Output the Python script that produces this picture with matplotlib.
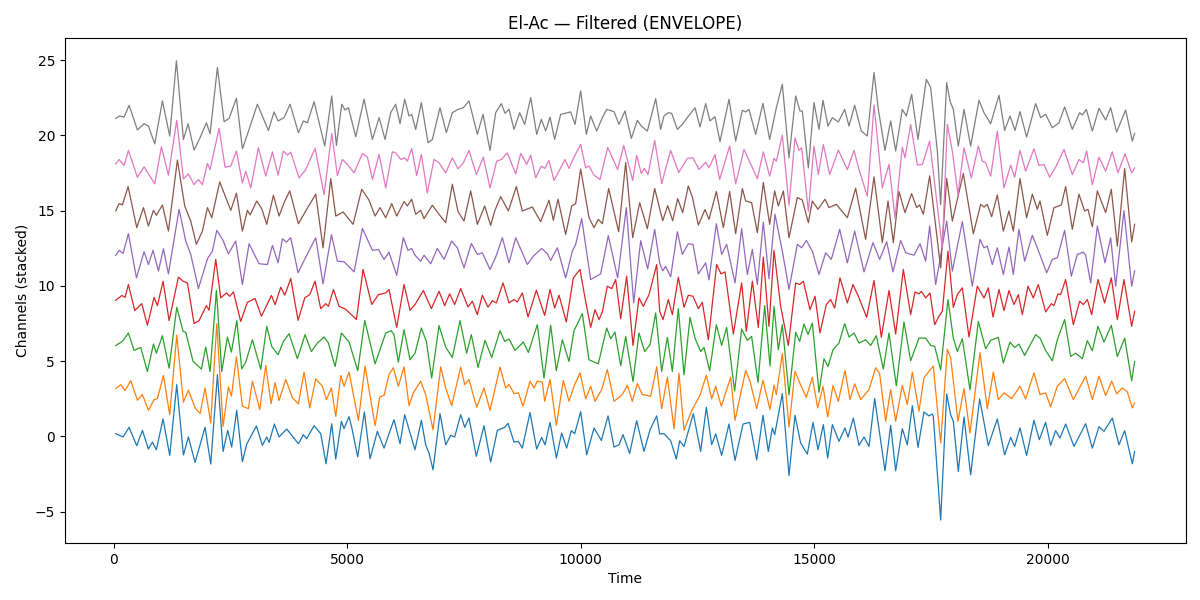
import matplotlib
matplotlib.use("Agg")
import matplotlib.pyplot as plt

# (time, value) pairs, one list per channel (unstacked values)
ch0 = [(43,0.18),(200,-0.04),(328,0.6),(492,-0.62),(614,0.4),(742,-0.84),(828,-0.38),(913,-0.89),(1056,1.16),(1199,-1.27),(1349,3.44),(1492,-1.24),(1599,-0.04),(1741,-1.73),(1955,0.6),(2077,-1.84),(2220,4.1),(2341,-1.0),(2441,0.4),(2526,-0.71),(2633,1.73),(2755,-1.69),(2848,-0.51),(3055,0.69),(3183,-0.6),(3276,-0.04),(3326,-0.4),(3440,0.82),(3540,-0.04),(3704,0.49),(3954,-0.49),(4061,0.11),(4132,-0.16),(4289,0.71),(4432,0.18),(4546,-1.82),(4667,0.84),(4753,-1.51),(4874,1.0),(4931,0.51),(5038,1.31),(5096,0.6),(5224,-1.36),(5367,1.62),(5488,-1.49),(5645,0.33),(5788,-0.78),
       (6001,1.11),(6130,-0.49),(6230,1.44),(6451,-0.89),(6587,1.07),(6679,-0.56),(6751,-1.11),(6837,-2.22),(6986,1.51),(7108,-0.56),(7215,0.07),(7300,-0.04),(7429,1.44),(7515,0.6),(7607,1.22),(7764,-1.33),(7928,0.71),(8071,-1.71),(8214,0.4),(8371,0.6),(8442,0.87),(8571,-0.38),(8664,-0.33),(8749,-0.78),(8913,1.58),(9056,-0.84),(9163,-0.07),(9235,-0.56),(9342,0.93),(9477,-1.44),(9591,0.22),(9698,-0.78),(9798,0.38),(9870,0.18),(9998,1.64),(10127,-1.22),(10284,0.56),(10441,-0.27),(10584,1.36),(10712,-0.71),(10819,-0.56),(10905,0.11),(11047,-1.13),(11197,1.04),(11354,-1.0),(11483,0.44),(11626,1.36),
       (11690,0.16),(11782,0.18),(11925,-0.29),(12046,-1.51),(12118,-0.29),(12211,-0.67),(12410,1.51),(12567,-1.0),(12689,1.93),(12803,-0.56),(12889,0.16),(13017,-1.27),(13174,0.82),(13303,-1.6),(13474,0.82),(13617,0.93),(13767,-1.56),(13902,1.4),(14016,-1.0),(14102,0.56),(14152,0.11),(14316,2.84),(14459,-2.6),(14587,1.4),(14708,-0.44),(14851,-1.18),(14973,0.93),(15080,-0.89),(15194,0.78),(15287,-1.44),(15387,0.78),(15529,-0.33),(15658,0.56),(15722,-0.04),(15836,1.22),(15957,-0.6),(16065,-0.04),(16172,-0.67),(16293,2.51),(16514,-2.29),(16636,0.73),(16743,-2.29),(16885,0.51),(16992,-0.56),(17100,2.04),(17221,-0.73),(17349,1.62),(17456,1.36),(17528,1.49),
       (17549,1.33),(17706,-5.56),(17835,2.82),(17920,1.44),(17977,1.0),(18084,-2.33),(18206,1.29),(18348,-2.56),(18541,2.49),(18727,-0.62),(18919,1.16),(19076,-1.22),(19205,-0.07),(19290,-0.67),(19405,0.56),(19547,-1.27),(19704,1.07),(19819,-0.22),(19954,0.93),(20061,-0.6),(20168,0.38),(20261,-0.11),(20383,0.82),(20561,-0.67),(20811,0.84),(20954,-0.78),(21096,0.64),(21203,0.33),(21382,1.22),(21524,-0.56),(21646,0.38),(21810,-1.82),(21860,-1.0)]

ch1 = [(43,0.18),(150,0.44),(243,0.04),(364,0.71),(507,-0.6),(614,-0.22),(743,-1.27),(864,-0.56),(935,-0.49),(1064,1.04),(1199,-1.56),(1349,3.73),(1492,-0.73),(1599,0.07),(1742,-1.11),(1849,-1.49),(1956,0.22),(2077,-2.11),(2206,4.49),(2341,-2.33),(2455,0.29),(2520,-0.33),(2627,2.29),(2755,-1.0),(2884,-1.16),(2969,0.67),(3126,-1.22),(3255,1.71),(3369,-0.82),(3455,0.56),(3540,-0.62),(3683,0.78),(3826,-0.44),(3954,-0.84),(4075,1.27),(4197,-1.11),(4325,0.82),(4468,0.33),(4554,-0.56),(4661,0.22),(4754,-1.67),(4861,1.04),(4932,0.33),(5039,1.27),(5239,-1.93),(5382,1.67),(5596,-2.29),(5696,-0.38),(5789,-0.27),
       (5894,1.11),(5987,1.56),(6094,0.33),(6216,1.62),(6323,-0.96),(6415,-0.11),(6572,0.67),(6679,-0.22),(6836,-2.56),(7001,1.62),(7108,0.22),(7236,-0.96),(7429,1.6),(7515,0.44),(7607,0.78),(7771,-1.07),(7928,0.22),(8057,-1.27),(8271,1.6),(8392,0.22),(8464,0.44),(8571,-0.16),(8664,-0.11),(8764,-1.0),(8913,0.67),(8999,0.22),(9070,0.67),(9177,0.6),(9227,-0.67),(9342,0.78),(9477,-2.27),(9627,0.71),(9748,-0.67),(9855,0.33),(9984,1.22),(10105,-0.51),(10212,0.33),(10305,-0.67),(10448,0.11),(10569,1.44),(10712,-0.67),(10890,-0.22),(10997,0.4),(11104,-0.67),(11211,0.51),(11318,-0.22),(11497,-0.33),(11626,1.62),
       (11732,-1.18),(11854,0.93),(11997,-2.49),(12104,1.2),(12211,-2.6),(12375,-1.29),(12553,-0.27),(12689,1.07),(12803,-0.51),(12889,0.33),(13010,-1.0),(13210,0.93),(13303,-1.93),(13438,0.04),(13531,1.38),(13624,0.67),(13767,-1.16),(13902,0.73),(14052,-1.22),(14138,0.4),(14188,-0.22),(14316,2.49),(14459,-2.38),(14587,1.33),(14687,0.56),(14830,-0.4),(14958,0.93),(15073,-1.11),(15187,0.33),(15287,-1.71),(15401,0.38),(15515,-0.67),(15658,1.38),(15765,-0.56),(15865,0.49),(15993,-0.56),(16172,0.11),(16314,1.56),(16400,1.16),(16528,-2.0),(16636,0.11),(16743,-2.0),(16885,0.38),(16992,-0.89),(17100,1.27),(17242,-1.33),(17349,0.89),(17456,1.33),(17549,1.67),
       (17706,-3.44),(17849,2.78),(17920,2.22),(18077,-2.0),(18206,0.18),(18334,-2.78),(18548,2.56),(18705,-1.16),(18834,1.27),(18941,-0.56),(19062,-0.11),(19226,-0.49),(19405,0.33),(19526,-0.51),(19704,1.22),(19833,-0.22),(19954,-0.11),(20061,-1.04),(20204,0.33),(20361,0.84),(20547,-0.56),(20811,1.0),(20954,-0.56),(21096,1.0),(21239,-0.29),(21368,0.67),(21474,-0.18),(21596,0.22),(21703,-0.04),(21810,-1.11),(21860,-0.78)]

ch2 = [(43,0.04),(186,0.31),(314,0.87),(436,-0.29),(578,-0.09),(721,-1.69),(850,0.13),(914,-0.47),(1042,0.69),(1185,-1.47),(1349,2.58),(1485,0.98),(1542,0.91),(1699,-1.02),(1877,-1.53),(1970,-0.07),(2063,-1.69),(2199,3.69),(2313,-1.69),(2434,0.6),(2520,-0.4),(2634,1.69),(2741,-1.51),(2827,-1.07),(2969,0.42),(3148,-1.54),(3276,1.31),(3383,-0.02),(3519,-0.58),(3633,0.31),(3754,0.82),(3933,-0.84),(4097,0.76),(4232,-0.36),(4361,0.2),(4504,0.6),(4597,0.2),(4740,-1.36),(4875,0.87),(5039,0.27),(5225,-1.64),(5375,1.71),(5596,-1.18),(5824,0.87),
       (5944,1.02),(6001,0.76),(6094,-1.07),(6216,1.09),(6344,-0.91),(6451,-0.47),(6587,1.2),(6694,0.31),(6808,-2.13),(6965,1.36),(7108,-0.07),(7250,-0.76),(7415,1.69),(7557,-0.47),(7657,0.76),(7800,-1.42),(7950,0.38),(8093,-0.76),(8271,1.02),(8371,0.31),(8464,0.47),(8592,-0.29),(8771,0.27),(8878,-0.42),(9070,1.42),(9213,-2.13),(9356,1.38),(9477,-1.64),(9606,0.42),(9748,-1.02),(9855,1.02),(10034,2.16),(10176,-0.91),(10376,-1.18),(10555,1.2),(10641,0.49),(10733,0.93),(10855,-1.31),(10962,0.64),(11119,-2.36),(11247,0.87),(11368,-0.36),(11483,0.09),(11604,2.2),
       (11732,-1.69),(11854,0.58),(11961,-1.69),(12089,2.49),(12211,-1.91),(12339,1.91),(12446,0.53),(12567,-0.36),(12639,-0.09),(12760,-1.64),(12903,1.42),(13017,0.04),(13124,1.24),(13295,-2.98),(13445,1.13),(13567,0.38),(13659,0.64),(13795,-2.42),(13938,2.69),(14052,-1.31),(14138,2.64),(14230,-0.24),(14316,1.42),(14459,-3.24),(14602,0.91),(14687,0.31),(14780,1.47),(14866,0.76),(14958,1.53),(15101,-3.07),(15208,-0.84),(15294,-1.36),(15401,-0.24),(15529,0.2),(15651,1.49),(15744,0.6),(15851,0.87),(15958,0.2),(16100,0.42),(16207,0.04),(16328,0.69),(16478,-1.53),(16600,0.87),(16757,-2.64),(16921,1.6),(17064,-0.98),(17242,0.53),(17385,0.53),(17492,0.04),
       (17578,-0.02),(17706,-1.58),(17863,3.09),(17977,0.53),(18063,-0.36),(18170,0.49),(18334,-2.91),(18513,1.64),(18670,-0.18),(18777,0.38),(18941,0.58),(19048,-1.13),(19191,0.27),(19290,-0.09),(19383,0.13),(19505,-0.62),(19740,0.76),(19833,0.53),(19954,-0.29),(20097,-0.98),(20204,0.42),(20361,1.76),(20490,-0.69),(20597,-0.47),(20740,-0.84),(20847,0.36),(20954,-0.31),(21075,1.31),(21203,0.27),(21360,1.38),(21489,-0.69),(21646,0.53),(21796,-2.31),(21860,-1.02)]

ch3 = [(43,0.04),(172,0.36),(243,0.24),(314,1.09),(450,-0.64),(600,-0.18),(721,-1.62),(864,0.24),(935,-0.31),(1057,1.31),(1185,-1.31),(1385,1.58),(1485,1.31),(1578,1.2),(1720,-1.51),(1827,-1.31),(1984,-0.31),(2041,-0.62),(2184,2.76),(2291,0.2),(2413,0.53),(2484,0.31),(2563,0.6),(2719,-1.36),(2862,-0.09),(3026,0.16),(3162,-1.02),(3376,0.36),(3455,-0.24),(3576,0.91),(3662,0.38),(3790,1.49),(3947,-1.29),(4090,0.2),(4197,0.42),(4311,1.31),(4432,-0.51),(4539,-0.18),(4597,-0.36),(4704,0.76),(4825,-0.36),(4953,-0.53),(5075,-0.87),(5196,-1.24),(5339,2.09),(5524,-0.24),(5667,0.42),(5824,0.53),
       (5894,0.76),(6059,-1.76),(6216,1.09),(6344,-0.62),(6451,-0.24),(6630,0.69),(6801,-0.51),(6965,0.64),(7086,-0.31),(7193,0.47),(7300,-0.24),(7429,0.82),(7586,-0.4),(7679,-0.02),(7786,-0.91),(7893,0.38),(8014,-0.42),(8107,0.02),(8193,-0.13),(8335,1.2),(8464,-0.13),(8571,0.09),(8642,-0.07),(8749,0.53),(8871,-1.07),(9049,0.71),(9227,-0.96),(9342,0.76),(9441,-0.47),(9534,0.38),(9691,-1.4),(9841,1.53),(9984,2.09),(10091,0.2),(10212,-1.76),(10305,-0.58),(10391,-1.24),(10462,-0.73),(10569,0.98),(10662,0.82),(10748,1.42),(10855,-1.18),(10983,1.64),(11119,-2.96),(11247,0.2),(11340,-0.36),(11461,0.42),(11626,2.42),
       (11690,-0.69),(11761,-1.24),(11875,0.09),(11961,-0.91),(12089,1.58),(12211,-0.42),(12303,0.38),(12403,0.31),(12518,-0.51),(12603,-0.09),(12732,-2.58),(12910,2.42),(13003,1.8),(13089,1.93),(13267,-2.2),(13445,1.2),(13545,-2.02),(13674,1.31),(13802,-1.76),(13909,2.91),(14030,-1.69),(14138,3.36),(14280,-0.36),(14444,-2.96),(14602,1.2),(14687,1.09),(14766,1.31),(14908,-0.58),(15016,0.31),(15122,-2.13),(15258,-0.24),(15351,0.09),(15436,-0.47),(15551,1.53),(15708,-0.13),(15829,1.09),(15944,0.31),(16122,-1.09),(16279,1.36),(16436,-2.42),(16600,0.69),(16743,-2.2),(16907,2.09),(17064,-0.91),(17157,0.6),(17242,0.47),(17292,0.64),(17385,0.2),(17478,0.53),
       (17578,-1.58),(17670,-1.02),(17742,-0.69),(17863,3.31),(17977,-0.42),(18063,0.42),(18170,0.87),(18313,-2.4),(18491,0.98),(18634,0.2),(18727,0.87),(18827,-1.07),(18955,0.76),(19062,-0.64),(19169,0.69),(19276,-0.24),(19369,0.42),(19455,-0.91),(19576,0.98),(19690,0.2),(19797,1.09),(19954,-0.73),(20075,-0.18),(20133,-0.31),(20218,0.47),(20275,0.42),(20383,1.42),(20547,-1.58),(20682,-0.02),(20761,-0.24),(20847,0.09),(20939,-0.91),(21075,1.42),(21217,-0.13),(21360,1.53),(21489,-1.24),(21631,1.42),(21796,-1.69),(21860,-0.69)]

ch4 = [(43,0.02),(115,0.36),(200,0.16),(314,1.47),(486,-1.47),(650,0.27),(743,-0.58),(842,0.36),(957,-1.02),(1064,0.47),(1171,-1.2),(1399,3.09),(1542,0.98),(1649,0.09),(1813,-2.18),(2006,-0.2),(2113,0.31),(2206,1.69),(2341,1.02),(2455,0.13),(2612,0.98),(2755,-1.91),(2898,0.8),(3112,-0.53),(3290,-0.58),(3398,0.69),(3519,-0.47),(3612,1.13),(3697,0.91),(3790,1.2),(3947,-1.13),(4111,-0.09),(4325,1.2),(4482,-1.87),(4661,1.4),(4789,-0.36),(4932,-0.4),(5146,-1.07),(5325,1.82),(5539,0.36),(5667,0.42),(5788,-0.24),
       (5894,0.24),(6059,-1.3),(6201,1.2),(6301,0.36),(6380,0.49),(6451,0.04),(6572,-0.36),(6644,0.04),(6787,-0.53),(6929,0.49),(7072,-0.24),(7236,0.98),(7357,0.53),(7500,-0.8),(7657,0.82),(7786,0.09),(7893,0.2),(8057,-0.91),(8178,-0.09),(8321,1.2),(8464,-0.47),(8607,1.2),(8749,0.2),(8856,-0.58),(8985,-0.02),(9163,0.49),(9285,0.13),(9356,-0.31),(9499,0.53),(9677,-1.47),(9820,0.31),(9891,0.76),(10020,2.47),(10212,-1.58),(10426,-1.2),(10590,1.34),(10790,-1.47),(10976,3.2),(11133,-3.13),(11283,1.0),(11433,-0.87),(11583,1.75),
       (11690,-0.5),(11754,-1.0),(11818,-0.7),(11925,-1.4),(12068,1.6),(12175,0.09),(12303,0.8),(12403,0.76),(12518,-1.2),(12675,-0.47),(12746,-1.6),(12903,2.13),(13017,0.09),(13124,0.76),(13303,-1.8),(13445,1.8),(13567,-1.24),(13674,0.42),(13781,-1.91),(13909,2.24),(14030,-1.53),(14159,2.76),(14316,0.31),(14459,-2.24),(14637,0.76),(14730,0.53),(14830,1.02),(14958,0.31),(15101,-1.24),(15244,0.2),(15365,-0.24),(15544,1.76),(15708,-0.47),(15865,1.64),(16065,-1.07),(16257,0.87),(16400,-0.24),(16550,0.93),(16686,-1.07),(16850,1.02),(16957,0.2),(17135,0.04),(17264,0.8),(17385,-0.36),(17471,1.98),
       (17599,-1.91),(17835,2.31),(17956,-1.02),(18170,2.27),(18384,-2.02),(18548,1.09),(18634,0.53),(18705,0.64),(18812,-0.58),(18919,0.53),(19048,-1.24),(19169,0.58),(19262,-1.24),(19383,1.76),(19505,-0.36),(19669,1.36),(19776,0.53),(19976,-1.13),(20097,-0.24),(20204,-0.13),(20361,1.69),(20504,-1.36),(20632,0.09),(20761,0.24),(20811,0.04),(20918,-1.8),(21061,1.98),(21225,-0.47),(21346,1.2),(21453,-2.02),(21631,3.0),(21796,-2.02),(21860,-1.0)]

ch5 = [(43,-0.02),(115,0.47),(186,0.38),(307,1.6),(493,-1.13),(636,0.2),(743,-1.02),(850,0.02),(914,-0.31),(1042,0.38),(1171,-1.36),(1363,3.36),(1520,0.31),(1649,-0.69),(1770,-2.24),(1899,-1.36),(2006,0.2),(2099,-0.47),(2270,1.91),(2506,0.02),(2627,1.16),(2755,-1.36),(2862,0.02),(2919,-0.29),(3062,0.64),(3169,0.13),(3276,-0.91),(3419,1.02),(3540,-0.36),(3662,0.64),(3769,1.31),(3954,-0.87),(4111,-0.02),(4325,1.09),(4482,-2.47),(4647,2.13),(4754,-0.36),(4911,-0.09),(5125,-0.91),(5310,1.42),(5467,0.69),(5596,-0.36),(5703,0.2),(5824,-0.47),
       (5952,0.47),(6059,-0.36),(6216,0.6),(6287,0.31),(6380,0.76),(6465,-0.24),(6572,0.02),(6644,-0.53),(6822,0.36),(6965,-0.24),(7108,-0.8),(7250,1.76),(7372,-0.07),(7500,-0.69),(7643,1.31),(7786,-0.91),(7943,0.31),(8071,-0.98),(8157,-0.02),(8285,0.93),(8450,-0.02),(8621,1.6),(8749,-0.02),(8963,0.24),(9142,-0.73),(9320,0.69),(9413,-0.64),(9513,0.76),(9677,-1.58),(9805,0.31),(9891,0.47),(9998,2.76),(10177,-0.47),(10284,-1.13),(10376,-0.58),(10462,-0.87),(10598,1.47),(10811,-1.4),(10962,3.2),(11112,-1.8),(11262,0.53),(11426,-1.2),(11583,1.47),
       (11754,-0.67),(11861,0.33),(11968,-0.67),(12075,0.8),(12182,-0.13),(12303,1.64),(12389,0.91),(12518,-0.96),(12660,0.07),(12746,-0.58),(12903,1.27),(13053,-1.13),(13188,1.27),(13317,-1.53),(13460,1.47),(13531,0.64),(13659,0.53),(13781,-1.47),(13909,1.87),(14045,-0.91),(14152,1.31),(14230,0.31),(14338,1.31),(14459,-1.8),(14637,0.87),(14744,0.71),(14873,-0.8),(14958,0.64),(15080,0.09),(15230,0.76),(15315,0.2),(15472,0.42),(15708,-0.47),(15886,1.49),(16100,-1.91),(16279,2.24),(16457,-2.13),(16579,0.64),(16693,-2.13),(16814,1.27),(16942,-0.13),(17085,1.13),(17192,0.2),(17256,0.38),(17335,-0.24),(17471,2.31),
       (17706,-3.8),(17835,2.13),(17906,0.53),(17956,-0.69),(18063,0.76),(18191,2.47),(18406,-1.53),(18563,0.42),(18634,0.24),(18705,0.42),(18798,-0.4),(18919,1.04),(19048,-1.36),(19169,-0.02),(19262,-1.36),(19405,2.13),(19547,-0.47),(19669,1.09),(19776,0.09),(19833,0.64),(19990,-1.64),(20133,0.2),(20290,0.38),(20383,1.6),(20525,-1.24),(20668,1.09),(20789,-0.02),(20861,0.09),(20954,-1.07),(21061,1.31),(21239,-0.13),(21360,1.42),(21489,-2.36),(21646,2.8),(21796,-2.07),(21860,-0.91)]

ch6 = [(43,0.11),(115,0.4),(222,0.0),(314,1.0),(507,-0.78),(650,-0.09),(878,-1.22),(1021,1.24),(1171,-0.64),(1349,3.0),(1492,-0.89),(1599,-0.56),(1720,-1.27),(1813,-0.93),(1899,-1.27),(2006,0.13),(2063,-0.27),(2256,2.47),(2384,-0.11),(2506,-0.04),(2627,0.96),(2755,-1.16),(2827,-0.38),(2934,-1.49),(3098,1.18),(3255,-0.71),(3398,0.91),(3519,-0.64),(3633,0.96),(3719,0.69),(3790,0.89),(3968,-0.82),(4111,-0.27),(4311,1.13),(4504,-1.93),(4668,2.13),(4789,-0.67),(4896,0.4),(5003,0.07),(5146,-0.49),(5325,0.8),(5432,0.56),(5539,-0.93),(5682,0.73),(5824,-1.49),
       (5966,0.91),(6037,0.84),(6144,0.4),(6230,0.51),(6287,0.29),(6380,1.13),(6487,-0.67),(6587,0.73),(6715,-1.82),(6858,0.4),(6965,0.18),(7108,-0.49),(7250,0.51),(7372,-0.22),(7486,0.18),(7607,1.0),(7764,-0.6),(7914,0.56),(8057,-1.49),(8200,0.29),(8300,0.4),(8428,0.84),(8607,-0.56),(8714,0.8),(8842,0.07),(8928,0.69),(9035,-0.82),(9156,-0.04),(9227,-0.2),(9320,0.33),(9427,-1.0),(9549,-0.27),(9663,0.4),(9748,-0.2),(9841,0.47),(9998,1.4),(10105,-0.16),(10177,-0.04),(10284,-0.64),(10412,-0.93),(10577,1.2),(10790,-0.27),(10919,1.33),(11112,-1.0),(11197,0.67),(11297,-0.53),(11362,-0.2),(11440,-0.6),(11583,1.67),
       (11733,-1.2),(11925,1.0),(12097,-0.47),(12282,0.47),(12403,0.51),(12532,-0.27),(12675,0.22),(12746,-0.16),(12874,0.73),(12974,-0.93),(13188,1.29),(13317,-1.22),(13495,1.07),(13659,-0.04),(13781,-0.89),(13909,0.91),(14045,-0.71),(14138,0.47),(14188,0.29),(14316,2.02),(14459,-2.64),(14587,1.84),(14673,1.0),(14730,1.18),(14873,-3.04),(14994,1.29),(15087,-0.6),(15194,1.4),(15330,-0.6),(15515,1.02),(15708,-0.27),(15851,1.0),(15958,-0.27),(16136,-2.04),(16279,4.02),(16457,-1.49),(16600,0.07),(16729,-3.49),(16885,1.22),(16942,0.51),(17064,2.73),(17207,0.04),(17314,0.07),(17471,1.62),
       (17742,-5.5),(17849,2.73),(17956,0.96),(18077,-1.93),(18206,1.18),(18363,-0.82),(18513,1.29),(18598,0.29),(18670,0.18),(18777,-0.71),(18919,2.29),(19062,-1.49),(19205,0.02),(19290,-0.78),(19405,1.0),(19526,-0.38),(19704,1.11),(19812,0.0),(19919,0.07),(20040,-0.78),(20168,-0.11),(20347,1.07),(20525,-0.6),(20668,0.4),(20761,0.18),(20832,0.96),(20954,-1.27),(21096,0.56),(21239,-0.38),(21382,0.91),(21503,-0.49),(21653,0.78),(21796,-0.49),(21860,-0.16)]

ch7 = [(43,0.13),(129,0.29),(222,0.22),(329,1.0),(507,-0.64),(650,-0.22),(743,-0.38),(878,-1.56),(1042,1.29),(1199,-1.04),(1342,3.96),(1492,-1.27),(1592,-0.22),(1720,-1.98),(1842,-1.2),(1984,-0.16),(2063,-0.89),(2220,3.51),(2363,-0.09),(2470,0.13),(2627,1.47),(2755,-1.89),(2862,-0.93),(3076,1.07),(3312,-0.67),(3433,0.56),(3519,-0.04),(3647,0.18),(3776,1.07),(3954,-0.82),(4061,-0.04),(4147,-0.16),(4290,1.24),(4518,-1.71),(4668,1.62),(4768,-1.67),(4882,1.07),(4953,0.69),(5025,0.84),(5182,-1.09),(5360,1.41),(5539,-1.27),(5682,0.18),(5810,-1.27),
       (5930,0.51),(6037,1.07),(6130,-0.22),(6230,1.4),(6323,0.29),(6380,0.4),(6465,-0.6),(6587,1.18),(6730,-1.49),(6822,-1.27),(6986,0.84),(7122,-0.82),(7250,0.51),(7372,0.73),(7486,0.84),(7607,1.29),(7786,-0.93),(7907,0.4),(8057,-2.0),(8178,0.51),(8300,1.11),(8378,0.47),(8464,0.73),(8571,-0.6),(8692,0.51),(8799,-0.27),(8928,1.51),(9056,-0.93),(9156,0.07),(9249,-0.71),(9342,0.22),(9441,-1.27),(9570,0.4),(9784,0.56),(9877,-0.27),(9998,1.96),(10120,-0.93),(10212,0.29),(10341,-0.71),(10462,0.18),(10555,0.73),(10712,0.58),(10819,-0.27),(10947,0.62),(11083,-1.2),(11211,0.0),(11297,-0.38),(11426,-0.71),(11604,1.44),
       (11711,-0.6),(11782,0.29),(11875,0.51),(11947,0.47),(12068,-0.6),(12175,-0.27),(12282,0.18),(12446,0.84),(12553,-0.44),(12675,1.11),(12767,-0.04),(12874,0.24),(12981,-1.42),(13174,1.4),(13317,-1.38),(13460,0.67),(13531,0.56),(13602,0.73),(13745,-0.93),(13902,1.13),(14045,-1.27),(14188,0.84),(14316,2.4),(14459,-2.49),(14602,1.62),(14694,0.62),(14744,0.62),(14873,-3.16),(14994,1.18),(15101,-0.6),(15187,1.33),(15294,-0.38),(15387,0.18),(15515,-0.11),(15651,0.73),(15744,-0.38),(15865,1.0),(16008,-0.71),(16136,-1.04),(16279,3.18),(16372,0.73),(16514,-2.0),(16636,-0.04),(16743,-2.04),(16885,0.73),(16971,0.29),(17085,1.73),(17221,-1.27),(17399,2.73),
       (17492,2.18),(17635,-2.04),(17706,-5.6),(17835,2.51),(17906,1.29),(17977,0.73),(18084,-1.71),(18206,0.73),(18348,-1.71),(18527,1.33),(18634,0.51),(18777,-0.22),(18955,1.67),(19076,-0.67),(19191,0.29),(19298,-0.67),(19405,0.58),(19547,-1.11),(19740,1.11),(19847,0.18),(19954,0.4),(20097,-0.49),(20240,-0.16),(20361,0.89),(20525,-0.6),(20682,0.51),(20740,0.36),(20825,0.73),(20954,-0.71),(21096,0.8),(21239,0.02),(21346,0.84),(21474,-0.78),(21667,0.69),(21810,-1.38),(21860,-0.87)]

channels = [ch0, ch1, ch2, ch3, ch4, ch5, ch6, ch7]
stack_step = 3.0

fig, ax = plt.subplots(figsize=(12, 6), dpi=100)
for i, ch in enumerate(channels):
    t = [p[0] for p in ch]
    v = [p[1] + i * stack_step for p in ch]
    ax.plot(t, v, color=f"C{i}", linewidth=0.9, solid_joinstyle="round")

ax.set_title("El-Ac \u2014 Filtered (ENVELOPE)")
ax.set_xlabel("Time")
ax.set_ylabel("Channels (stacked)")
fig.subplots_adjust(left=0.054, right=0.988, top=0.937, bottom=0.095)
fig.savefig("out.png", dpi=100)
